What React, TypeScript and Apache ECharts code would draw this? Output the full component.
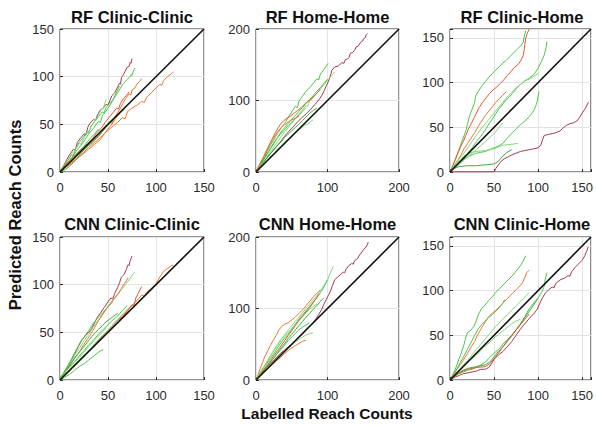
import React, { useEffect, useRef } from 'react';
import * as echarts from 'echarts';

type Pt = [number, number];

// ---------- panel meta ----------
const panelTitles = ['RF Clinic-Clinic', 'RF Home-Home', 'RF Clinic-Home', 'CNN Clinic-Clinic', 'CNN Home-Home', 'CNN Clinic-Home'];
const axisMax = [150, 200, 160, 150, 200, 160];
const axisInterval = [50, 100, 50, 50, 100, 50];
const yAxisTitle = 'Predicted Reach Counts';
const xAxisTitle = 'Labelled Reach Counts';

// ---------- colours ----------
const G1 = '#4cc44c';
const G2 = '#82d87a';
const G3 = '#3aae45';
const OR = '#ec7634';
const RO = '#dc5a2e';
const MR = '#a8384e';

// ---------- RF Clinic-Clinic ----------
const rfClinicClinic: Pt[][] = [
  [[0,0],[3,5],[7,13],[10,18],[14,24],[16,23],[18,31],[21,35],[25,40],[27,39],[29,47],[31,51],[35,55],[37,54],[39,60],[42,65],[45,67],[48,71],[50,70],[52,75],[54,80],[57,83],[60,89],[62,93],[63,92],[64,99],[66,102],[68,106],[70,110],[72,111],[73,115],[74,114],[75,119]],
  [[0,0],[4,6],[8,12],[12,18],[14,17],[16,24],[20,31],[24,36],[28,42],[30,41],[32,48],[36,53],[40,58],[44,63],[46,62],[48,68],[52,72],[56,77],[60,83],[63,88],[66,93],[69,96],[72,99],[74,102],[75,101],[76,105],[78,109]],
  [[0,2],[5,8],[10,16],[15,22],[20,30],[22,29],[25,36],[30,43],[34,50],[38,56],[41,62],[44,67],[45,66],[47,73],[48,76]],
  [[0,0],[4,5],[8,10],[13,16],[17,22],[22,28],[26,34],[30,40],[35,46],[40,53],[42,52],[44,59],[48,64],[52,70],[55,75],[58,82],[60,86],[62,90]],
  [[0,0],[5,4],[10,9],[15,14],[20,20],[25,25],[30,29],[35,33],[40,37],[44,42],[48,47],[52,52],[54,51],[56,56],[60,62],[63,67],[66,73],[69,78],[72,82],[74,81],[75,86],[78,88],[80,92],[83,95],[85,98]],
  [[0,0],[6,5],[12,10],[18,15],[24,20],[30,26],[36,31],[42,36],[48,42],[54,47],[60,52],[65,57],[68,56],[70,63],[75,67],[80,70],[85,74],[88,73],[90,78],[95,83],[100,88],[104,92],[106,91],[108,96],[112,100],[116,103],[118,105]],
  [[0,0],[4,6],[9,11],[14,16],[19,21],[24,26],[29,30],[34,35],[38,41],[43,46],[47,52],[51,57],[55,62],[59,67],[61,66],[63,72],[66,77],[69,80],[72,84]],
  [[0,0],[5,5],[10,9],[15,15],[20,19],[25,24],[30,30],[35,35],[40,40],[45,46],[50,51],[55,56],[60,60],[64,63],[68,66]],
  [[2,0],[6,3],[10,6],[14,10],[18,15],[22,20],[26,24],[30,28],[34,31],[38,36],[42,40],[46,45],[50,50],[54,53],[57,57],[60,61]],
  [[0,0],[4,4],[8,8],[12,12],[16,17],[20,21],[24,26],[28,31],[32,36],[36,40],[40,45]],
  [[0,0],[6,5],[12,9],[18,14],[24,19],[30,24],[36,29],[42,34],[46,40],[50,45],[54,50],[58,56],[62,61],[65,66]],
];
const rfClinicClinicColors = [MR, G1, G2, G1, OR, OR, RO, G2, G3, G1, OR];

// ---------- RF Home-Home ----------
const rfHomeHome: Pt[][] = [
  [[0,0],[4,6],[8,10],[13,17],[18,24],[22,28],[28,35],[34,42],[40,50],[46,57],[52,63],[58,70],[64,76],[70,81],[76,87],[82,94],[88,101],[92,107],[95,113],[98,120],[101,126],[103,132],[105,138],[106,142],[110,147],[115,148],[120,153],[123,152],[125,157],[128,158],[130,160],[132,166],[135,167],[138,170],[140,175],[143,176],[146,181],[149,183],[150,186],[153,188],[154,192],[156,194]],
  [[0,0],[4,8],[8,14],[12,22],[16,30],[20,37],[25,45],[30,54],[35,61],[40,68],[45,76],[50,84],[55,92],[58,90],[60,99],[65,106],[70,113],[75,118],[80,124],[85,130],[88,129],[90,137],[95,143],[98,148],[101,152]],
  [[0,0],[5,7],[10,14],[15,21],[20,28],[25,35],[30,42],[35,49],[40,56],[45,62],[50,68],[55,75],[60,81],[65,87],[70,93],[72,91],[75,99],[80,104],[85,110],[90,116],[95,122],[100,128],[104,133],[108,137],[110,140]],
  [[0,0],[5,9],[10,16],[15,24],[20,32],[25,40],[30,48],[35,56],[40,62],[45,68],[50,74],[55,79],[60,85],[65,90],[70,96],[75,101],[80,107],[85,113],[90,118],[95,124],[100,130]],
  [[0,0],[5,6],[10,11],[15,16],[20,21],[25,26],[30,32],[35,37],[40,42],[45,46],[50,51],[55,55],[60,59],[65,63],[70,67],[72,66],[75,70],[80,73]],
  [[0,0],[5,6],[10,13],[15,19],[20,25],[25,31],[30,37],[35,42],[40,48],[45,53],[50,58],[55,62],[60,67],[65,72],[70,77],[75,82],[80,86],[85,89]],
  [[0,0],[4,7],[8,13],[12,20],[16,27],[20,33],[25,41],[30,48],[35,54],[40,59],[45,65],[50,70],[55,75],[60,79],[65,85],[70,90]],
  [[0,0],[3,6],[7,14],[11,22],[15,31],[19,39],[23,47],[27,55],[31,62],[35,68],[39,72],[43,75],[48,78],[53,82],[58,86],[63,90],[68,95],[73,99],[78,103],[83,108],[87,112],[90,116]],
  [[0,0],[4,8],[8,16],[12,24],[16,32],[20,40],[25,48],[30,56],[35,62],[40,66],[45,70],[50,73],[55,75],[60,78]],
];
const rfHomeHomeColors = [MR, G1, G2, G1, G2, G3, G1, RO, OR];

// ---------- RF Clinic-Home ----------
const rfClinicHome: Pt[][] = [
  [[0,0],[3,6],[6,14],[9,22],[12,30],[15,38],[18,46],[20,54],[22,62],[25,70],[28,78],[29,85],[32,90],[36,96],[40,101],[44,106],[48,110],[52,114],[56,118],[60,122],[64,125],[68,129],[72,133],[76,137],[80,141],[83,145],[84,150],[85,155],[86,158]],
  [[0,0],[3,7],[6,14],[9,21],[12,28],[15,34],[18,41],[21,48],[24,54],[27,60],[30,66],[33,72],[37,78],[41,83],[45,88],[49,92],[53,95],[57,99],[61,103],[65,108],[69,112],[73,117],[77,120],[80,124],[83,130],[84,136],[85,143],[86,150],[88,156],[90,160]],
  [[0,0],[4,6],[8,12],[12,18],[16,26],[20,32],[24,38],[28,44],[32,51],[36,57],[40,63],[44,68],[48,73],[52,78],[56,82],[60,86],[64,90]],
  [[0,0],[5,5],[10,10],[15,16],[20,21],[25,27],[30,34],[35,40],[40,47],[45,55],[50,62],[55,70],[60,76],[65,82],[70,87],[75,93],[80,98],[85,102],[90,105],[95,109],[100,116],[104,124],[107,131],[109,139],[110,146]],
  [[0,0],[5,8],[10,14],[15,20],[20,27],[25,34],[30,41],[35,48],[40,54],[45,60],[50,66],[55,72],[60,78],[65,84],[70,89],[75,94],[80,98],[85,102],[90,104],[95,107],[100,110]],
  [[0,0],[5,6],[10,10],[15,14],[20,17],[25,19],[30,21],[35,22],[40,23],[45,25],[50,27],[55,29],[60,32],[65,38],[70,43],[75,48],[80,53],[85,57],[90,62],[94,67],[97,73],[99,79],[100,85],[101,90]],
  [[0,0],[4,6],[8,10],[12,14],[16,18],[20,20],[25,22],[30,23],[40,24],[50,26],[60,30],[70,31],[77,32]],
  [[0,0],[5,4],[10,6],[20,7],[30,7],[40,8],[50,9],[55,12],[60,18],[65,22],[70,25]],
  [[0,0],[10,8],[20,17],[30,25],[40,34],[50,43],[55,49],[60,55]],
  [[0,0],[10,0],[20,0],[30,0],[40,0],[50,0],[52,4],[55,8],[58,12],[62,15],[66,17],[70,19],[75,21],[80,23],[85,24],[90,25],[95,26],[100,27],[103,30],[105,36],[107,41],[112,42],[116,43],[120,44],[125,46],[128,49],[132,52],[136,54],[140,55],[144,57],[147,61],[150,66],[153,70],[155,74],[157,78]],
];
const rfClinicHomeColors = [G1, RO, OR, G1, G2, G1, G2, G3, G2, MR];

// ---------- CNN Clinic-Clinic ----------
const cnnClinicClinic: Pt[][] = [
  [[0,0],[3,6],[6,11],[10,17],[15,27],[18,33],[22,41],[26,46],[30,50],[33,54],[36,60],[39,66],[42,70],[46,76],[50,82],[53,86],[55,85],[57,91],[60,97],[62,102],[64,108],[67,111],[69,116],[71,121],[72,120],[73,125],[75,130]],
  [[0,0],[4,7],[8,13],[12,20],[16,27],[20,33],[25,41],[30,48],[35,56],[40,63],[45,70],[50,77],[55,83],[60,89],[64,95],[68,100],[72,105],[75,110],[78,113]],
  [[0,0],[4,6],[8,12],[12,18],[16,24],[20,29],[24,36],[28,42],[32,48],[36,55],[40,62],[44,68],[48,74],[52,80],[56,85],[60,90],[64,96],[67,101],[71,107]],
  [[0,0],[5,6],[10,11],[15,16],[20,21],[25,26],[30,31],[35,36],[40,42],[45,47],[50,52],[55,57],[60,62],[65,67],[70,73],[75,78],[80,83],[85,89],[88,88],[90,92],[95,96],[100,101],[104,108],[108,114],[112,117],[116,120],[118,120]],
  [[0,0],[5,5],[10,10],[15,16],[20,21],[25,26],[30,31],[35,36],[40,41],[45,47],[50,52],[55,57],[60,63],[65,66],[70,72],[75,79],[77,78],[79,86],[82,92],[85,98]],
  [[0,3],[5,8],[10,14],[15,19],[20,25],[25,31],[30,37],[35,42],[40,48],[45,53],[50,58],[55,63],[60,67],[65,73],[70,78]],
  [[0,0],[4,6],[8,12],[12,18],[16,24],[20,29],[24,34],[28,39],[32,44],[36,49],[40,53],[44,57],[48,61],[52,64],[56,67],[60,70]],
  [[0,0],[5,3],[10,6],[15,10],[20,14],[25,17],[30,21],[35,25],[40,29],[45,32]],
  [[0,2],[5,8],[10,13],[15,18],[20,23],[25,29],[30,35],[35,41],[40,46],[45,51],[48,55]],
  [[0,0],[4,8],[8,15],[12,22],[16,30],[20,37],[25,45],[30,52],[35,60],[40,66],[45,71],[50,77],[55,82]],
  [[0,0],[6,6],[12,12],[18,19],[24,25],[30,31],[36,38],[42,44],[48,50],[54,57],[60,63],[66,70],[72,76]],
];
const cnnClinicClinicColors = [MR, G2, OR, OR, RO, G1, G3, G1, G2, G1, G2];

// ---------- CNN Home-Home ----------
const cnnHomeHome: Pt[][] = [
  [[0,0],[5,6],[10,12],[15,18],[20,23],[25,28],[30,33],[35,38],[40,42],[45,46],[50,50],[55,55],[60,60],[65,64],[70,70],[75,75],[80,80],[84,86],[88,92],[92,99],[95,106],[98,112],[101,118],[104,124],[107,132],[110,140],[114,144],[118,147],[122,151],[124,150],[126,155],[130,160],[134,163],[136,162],[138,167],[142,170],[145,175],[148,179],[151,183],[154,186],[156,190],[157,193]],
  [[0,0],[4,7],[8,14],[12,20],[16,27],[20,34],[25,42],[30,50],[35,57],[40,63],[45,70],[50,76],[55,82],[60,88],[65,94],[70,100],[75,106],[80,112],[85,118],[90,125],[95,132],[100,140],[104,150],[108,159]],
  [[0,0],[5,8],[10,16],[15,23],[20,30],[25,37],[30,45],[35,52],[40,58],[45,64],[50,71],[55,78],[60,85],[65,91],[70,97],[75,103],[80,109],[85,115],[90,122],[95,130],[100,140]],
  [[0,0],[3,8],[6,16],[9,24],[12,32],[16,40],[20,48],[24,55],[28,62],[32,70],[36,75],[40,78],[45,80],[50,84],[55,88],[60,93],[65,98],[70,104],[75,110],[80,116],[85,121],[90,126]],
  [[0,0],[5,6],[10,12],[15,18],[20,25],[25,31],[30,38],[35,45],[40,51],[45,58],[50,64],[55,70],[60,76],[65,82],[70,88],[75,93],[80,99],[85,104],[90,110],[95,115]],
  [[0,0],[5,5],[10,10],[15,15],[20,20],[25,26],[30,31],[35,36],[40,40],[45,45],[50,49],[55,53],[60,57],[65,60],[70,63],[75,65],[80,66]],
  [[0,0],[5,5],[10,10],[15,14],[20,19],[25,23],[30,28],[35,32],[40,37],[45,41],[50,45],[55,48],[60,51],[65,54],[70,56]],
  [[0,0],[5,7],[10,13],[15,19],[20,25],[25,31],[30,37],[35,43],[40,49],[45,55],[50,60],[55,65],[60,70],[65,74],[70,77],[75,80]],
  [[0,0],[5,9],[10,17],[15,25],[20,33],[25,41],[30,48],[35,55],[40,61],[45,67],[50,72],[55,78],[60,84],[65,89],[70,94],[75,99],[80,103],[85,106]],
  [[0,0],[5,6],[10,13],[15,20],[20,27],[25,34],[30,41],[35,48],[40,55],[45,62],[50,69],[55,76],[60,83],[65,89],[70,95],[75,101],[80,108],[84,114],[88,120]],
];
const cnnHomeHomeColors = [MR, G2, G1, OR, G3, G2, OR, G1, G2, RO];

// ---------- CNN Clinic-Home ----------
const cnnClinicHome: Pt[][] = [
  [[0,0],[3,6],[6,12],[9,20],[12,28],[14,34],[16,40],[18,48],[20,53],[24,56],[27,60],[29,64],[31,70],[33,75],[36,80],[40,84],[44,89],[48,93],[52,98],[56,102],[60,106],[64,110],[68,114],[72,118],[76,123],[80,128],[83,133],[86,139]],
  [[0,0],[5,7],[10,15],[15,22],[20,30],[24,37],[28,43],[31,50],[34,55],[37,60],[40,65],[44,71],[48,75],[52,78],[56,82],[60,86],[64,90],[68,94],[72,98],[76,102],[80,106],[83,110],[85,115],[87,120],[90,123]],
  [[0,0],[5,5],[10,11],[15,17],[20,22],[25,28],[30,34],[35,40],[40,46],[45,52],[50,58],[55,63],[60,68],[65,73],[70,78],[75,83],[80,88],[85,93],[90,98]],
  [[0,0],[5,4],[10,7],[15,9],[20,11],[25,12],[30,14],[35,17],[40,20],[45,25],[50,30],[55,34],[60,40],[65,45],[70,50],[75,56],[80,63],[85,71],[90,80],[95,86],[100,92],[104,98],[107,105],[108,112],[110,120]],
  [[0,0],[5,4],[10,8],[15,11],[20,13],[25,14],[30,15],[35,16],[40,17],[45,20],[50,26],[55,32],[60,37],[65,43],[70,49],[75,56],[80,62],[85,70],[90,77],[95,84],[100,92]],
  [[0,0],[5,5],[10,10],[15,15],[20,20],[25,24],[30,28],[35,33],[40,38],[45,42],[50,47],[55,51],[60,55],[65,59],[70,63],[75,66],[80,68]],
  [[0,0],[4,6],[8,13],[12,20],[16,27],[20,35],[24,42],[28,50],[32,57],[36,62],[40,66],[44,70],[48,73],[52,77],[56,81],[60,86],[62,90]],
  [[0,0],[10,8],[20,12],[30,14],[40,15],[45,18],[50,24],[55,30],[60,37],[65,44],[70,50],[75,56],[80,62],[85,68],[90,74]],
  [[0,0],[5,3],[10,5],[15,7],[20,8],[25,9],[30,10],[35,12],[40,12],[44,14],[47,18],[50,23],[55,28],[60,32],[65,37],[70,43],[75,50],[80,57],[85,63],[90,69],[95,74],[99,79],[102,86],[105,92],[108,97],[112,101],[116,104],[118,103],[120,108],[125,112],[130,114],[134,117],[136,116],[138,121],[142,126],[146,130],[150,134],[153,139],[155,144],[157,149]],
];
const cnnClinicHomeColors = [G1, OR, G2, G1, G3, G2, G1, RO, MR];

const panelData = [rfClinicClinic, rfHomeHome, rfClinicHome, cnnClinicClinic, cnnHomeHome, cnnClinicHome];
const panelColors = [rfClinicClinicColors, rfHomeHomeColors, rfClinicHomeColors, cnnClinicClinicColors, cnnHomeHomeColors, cnnClinicHomeColors];

// ---------- layout ----------
const colLeft = [60, 256, 450];
const colWidth = [144, 143, 144];
const rowTop = [29, 237];
const plotH = 143;
const FONT = '"Liberation Sans", Arial, Helvetica, sans-serif';

export default function App() {
  const ref = useRef<HTMLDivElement>(null);

  useEffect(() => {
    if (!ref.current) return;
    const chart = echarts.init(ref.current, undefined, { renderer: 'svg' });

    const grids: any[] = [];
    const xAxes: any[] = [];
    const yAxes: any[] = [];
    const series: any[] = [];
    const graphics: any[] = [];

    for (let i = 0; i < 6; i++) {
      const c = i % 3;
      const r = Math.floor(i / 3);
      const max = axisMax[i];
      const interval = axisInterval[i];
      grids.push({
        left: colLeft[c], top: rowTop[r], width: colWidth[c], height: plotH,
        show: true, borderColor: '#2b2b2b', borderWidth: 1, backgroundColor: '#fff',
      });
      const fmt = (v: number) => (v % interval === 0 ? String(v) : '');
      const common = {
        type: 'value', gridIndex: i, min: 0, max, interval,
        axisLine: { show: false },
        axisTick: { show: true, inside: true, length: 3, lineStyle: { color: '#2b2b2b' } },
        splitLine: { show: true, lineStyle: { color: '#e3e3e3', width: 1 } },
        axisLabel: { color: '#2b2b2b', fontSize: 13, fontFamily: FONT, formatter: fmt },
      };
      xAxes.push({ ...common, axisLabel: { ...common.axisLabel, margin: 9 } });
      yAxes.push({ ...common, axisLabel: { ...common.axisLabel, margin: 6 } });

      panelData[i].forEach((line, j) => {
        series.push({
          type: 'line', xAxisIndex: i, yAxisIndex: i, data: line,
          symbol: 'none', showSymbol: false, silent: true, clip: true,
          lineStyle: { color: panelColors[i][j], width: 1 },
        });
      });
      series.push({
        type: 'line', xAxisIndex: i, yAxisIndex: i, data: [[0, 0], [max, max]],
        symbol: 'none', showSymbol: false, silent: true, z: 5,
        lineStyle: { color: '#111', width: 1.6 },
      });

      graphics.push({
        type: 'text', x: colLeft[c] + colWidth[c] / 2, y: r === 0 ? 17 : 224,
        style: { text: panelTitles[i], font: `bold 16.5px ${FONT}`, fill: '#111', align: 'center', verticalAlign: 'middle' },
      });
    }

    graphics.push({
      type: 'text', x: 15, y: 215, rotation: Math.PI / 2,
      style: { text: yAxisTitle, font: `bold 16.5px ${FONT}`, fill: '#111', align: 'center', verticalAlign: 'middle' },
    });
    graphics.push({
      type: 'text', x: 327, y: 413,
      style: { text: xAxisTitle, font: `bold 15.5px ${FONT}`, fill: '#111', align: 'center', verticalAlign: 'middle' },
    });

    chart.setOption({
      animation: false,
      backgroundColor: '#fff',
      grid: grids,
      xAxis: xAxes,
      yAxis: yAxes,
      series,
      graphic: graphics,
    });

    return () => chart.dispose();
  }, []);

  return <div ref={ref} style={{ position: 'absolute', left: 0, top: 0, width: 596, height: 426 }} />;
}
